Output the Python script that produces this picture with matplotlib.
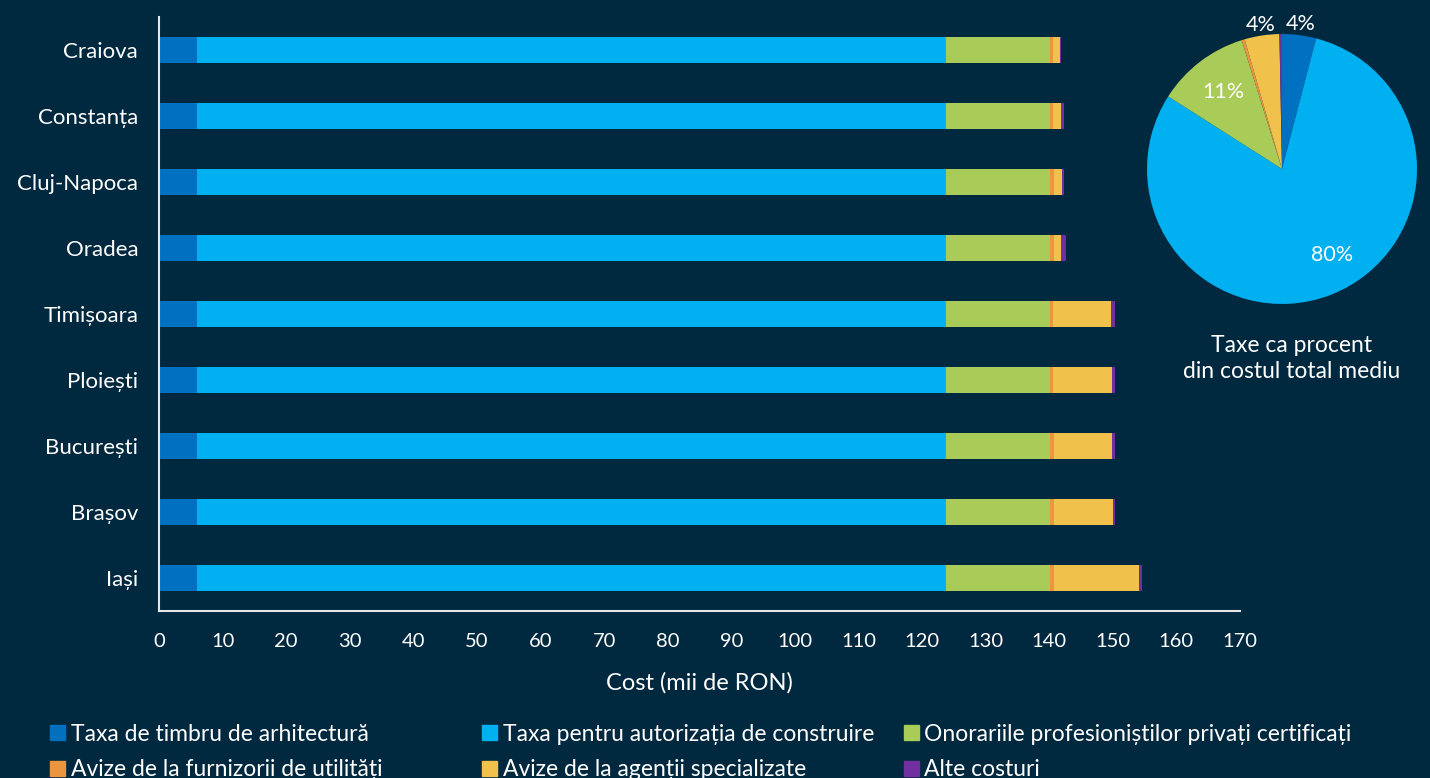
import numpy as np
import matplotlib.pyplot as plt
from matplotlib.patches import Patch

cities = ["Craiova", "Constanța", "Cluj-Napoca", "Oradea", "Timișoara",
          "Ploiești", "București", "Brașov", "Iași"]

# cost components, thousands RON
timbru = [6.0, 6.0, 6.0, 6.0, 6.0, 6.0, 6.0, 6.0, 6.0]
autorizatie = [117.7, 117.7, 117.7, 117.7, 117.7, 117.7, 117.7, 117.7, 117.7]
onorarii = [16.4, 16.4, 16.4, 16.4, 16.4, 16.4, 16.4, 16.4, 16.4]
furnizori = [0.45, 0.55, 0.6, 0.6, 0.45, 0.45, 0.6, 0.6, 0.6]
agentii = [1.1, 1.15, 1.25, 1.2, 9.2, 9.3, 9.1, 9.3, 13.4]
alte = [0.25, 0.45, 0.3, 0.7, 0.55, 0.45, 0.6, 0.3, 0.45]

labels = ["Taxa de timbru de arhitectură",
          "Taxa pentru autorizația de construire",
          "Onorariile profesioniștilor privați certificați",
          "Avize de la furnizorii de utilități",
          "Avize de la agenții specializate",
          "Alte costuri"]
colors = ["#0070C0", "#00B0F0", "#A9CB58", "#EB953F", "#F0C24B", "#7030A0"]

bg = "#00283F"
series = [timbru, autorizatie, onorarii, furnizori, agentii, alte]

fig = plt.figure(figsize=(14.3, 7.78), dpi=100, facecolor=bg)
plt.rcParams['font.family'] = ['Lato', 'DejaVu Sans']

ax = fig.add_axes([0.1112, 0.2147, 0.7559, 0.7635], facecolor=bg)
ypos = np.arange(len(cities))[::-1]
left = np.zeros(len(cities))
for vals, c in zip(series, colors):
    ax.barh(ypos, vals, left=left, height=0.4, color=c, linewidth=0)
    left += np.array(vals)

ax.set_xlim(0, 170)
ax.set_ylim(-0.5, 8.5)
ax.set_xticks(np.arange(0, 171, 10))
ax.set_yticks(ypos)
ax.set_yticklabels(cities)
ax.tick_params(axis='both', length=0, colors='white')
ax.tick_params(axis='x', pad=16, labelsize=14.5)
ax.tick_params(axis='y', pad=15, labelsize=16)
for s in ['top', 'right']:
    ax.spines[s].set_visible(False)
for s in ['left', 'bottom']:
    ax.spines[s].set_color('#E6E6E6')
    ax.spines[s].set_linewidth(1.5)
ax.set_xlabel("Cost (mii de RON)", color='white', fontsize=17, labelpad=16)

# pie of average shares
means = [np.mean(v) for v in series]
pax = fig.add_axes([0.8021, 0.6093, 0.1888, 0.347])
wedges, _ = pax.pie(means, colors=colors, startangle=90, counterclock=False,
                    wedgeprops=dict(linewidth=0))
pax.set_xlim(-1, 1)
pax.set_ylim(-1, 1)
pax.set_aspect('equal')
total = sum(means)
show = {0: 1.08, 1: 0.74, 2: 0.72, 4: 1.08}
for i, w in enumerate(wedges):
    if i not in show:
        continue
    ang = np.deg2rad((w.theta1 + w.theta2) / 2)
    if i == 1:
        ang += np.deg2rad(9)
    r = show[i]
    pax.text(r * np.cos(ang), r * np.sin(ang), f"{means[i] / total * 100:.0f}%",
             ha='center', va='center', color='white', fontsize=15.5, clip_on=False)
fig.text(0.9035, 0.570, "Taxe ca procent\ndin costul total mediu", ha='center',
         va='top', color='white', fontsize=16.5, linespacing=1.3)

# legend in three columns
col_x = [0.035, 0.337, 0.632]
handles = [Patch(color=c) for c in colors]
for k, x in enumerate(col_x):
    idx = [k, k + 3]
    leg = fig.legend([handles[i] for i in idx], [labels[i] for i in idx],
                     loc='upper left', bbox_to_anchor=(x, 0.070), frameon=False,
                     handlelength=0.65, handleheight=0.65, handletextpad=0.25,
                     labelspacing=0.65, borderpad=0, borderaxespad=0,
                     prop=dict(size=16.5))
    for t in leg.get_texts():
        t.set_color('white')

fig.savefig("out.png", facecolor=bg)
